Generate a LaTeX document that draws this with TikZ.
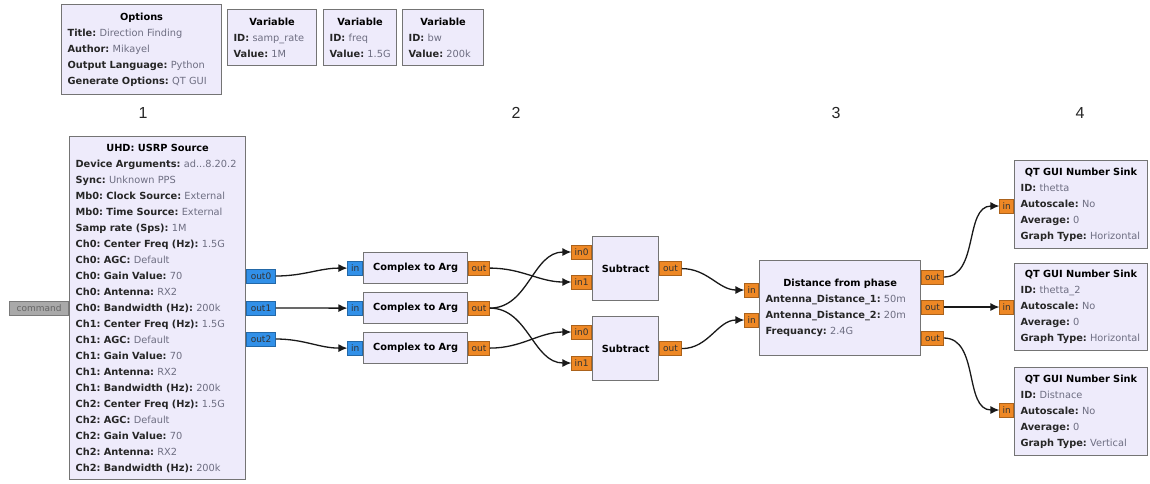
\documentclass[tikz,border=0pt]{standalone}
\usepackage{fontspec}
\setmainfont{DejaVu Sans}
\newfontfamily\numfont{Liberation Sans}
\usepackage{xcolor}
\usepackage{tikz}
\usetikzlibrary{arrows.meta}
\usetikzlibrary{positioning}
\frenchspacing

\definecolor{blkfill}{HTML}{EEEBFB}
\definecolor{blkdraw}{HTML}{747474}
\definecolor{valgray}{HTML}{6E6E82}
\definecolor{keyblack}{HTML}{262626}
\definecolor{cplx_port}{HTML}{3190E8}
\definecolor{flt_port}{HTML}{EE8825}
\definecolor{msg_port}{HTML}{A9A9A9}

\newcommand{\kv}[2]{\mbox{\textbf{\color{keyblack}#1:} \textcolor{valgray}{#2}}}
\newcommand{\ttl}[1]{\hspace*{\fill}\mbox{\textbf{#1}}\hspace*{\fill}\null}

\begin{document}
\begin{tikzpicture}[
      x=1pt, y=-1pt,
      blk/.style={draw=blkdraw, fill=blkfill, line width=1.2pt, anchor=north west,
        align=left, inner xsep=6pt, inner ysep=0pt,
        font=\fontsize{9.8}{16}\selectfont},
      port/.style={draw=#1!72!black, fill=#1, line width=0.6pt, inner sep=1pt,
        minimum height=14pt, text=black!80, font=\fontsize{9}{9}\selectfont},
      cport/.style={port=cplx_port},
      fport/.style={port=flt_port},
      mport/.style={port=msg_port},
      wire/.style={black!90, line width=1.3pt, -{Latex[length=9pt,width=8pt]}},
      num_lbl/.style={font=\numfont\fontsize{16}{16}\selectfont, text=black!85}
  ]

  % 1. Sfondo
  \fill[white] (0,0) rectangle (1150,483);

  % 2. Blocchi di impostazione
  \node[blk, text width=148pt, minimum height=90pt] (opts) at (61,4)
    {\ttl{Options}\\\kv{Title}{Direction Finding}\\\kv{Author}{Mikayel}\\
     \kv{Output Language}{Python}\\\kv{Generate Options}{QT GUI}};
  \node[blk, text width=77pt, minimum height=56pt] (var_sr) at (227,9)
    {\ttl{Variable}\\\kv{ID}{samp\_rate}\\\kv{Value}{1M}};
  \node[blk, text width=61pt, minimum height=56pt] (var_fq) at (323,9)
    {\ttl{Variable}\\\kv{ID}{freq}\\\kv{Value}{1.5G}};
  \node[blk, text width=69pt, minimum height=56pt] (var_bw) at (402,9)
    {\ttl{Variable}\\\kv{ID}{bw}\\\kv{Value}{200k}};

  % 3. Numeri delle colonne
  \foreach \n/\x in {1/143, 2/516, 3/836, 4/1080}
    \node[num_lbl] (col\n) at (\x,113) {\n};

  % 4. Sorgente USRP
  \node[blk, text width=164pt, minimum height=343pt] (usrp) at (69,136)
    {\ttl{UHD: USRP Source}\\
     \kv{Device Arguments}{ad...8.20.2}\\
     \kv{Sync}{Unknown PPS}\\
     \kv{Mb0: Clock Source}{External}\\
     \kv{Mb0: Time Source}{External}\\
     \kv{Samp rate (Sps)}{1M}\\
     \kv{Ch0: Center Freq (Hz)}{1.5G}\\
     \kv{Ch0: AGC}{Default}\\
     \kv{Ch0: Gain Value}{70}\\
     \kv{Ch0: Antenna}{RX2}\\
     \kv{Ch0: Bandwidth (Hz)}{200k}\\
     \kv{Ch1: Center Freq (Hz)}{1.5G}\\
     \kv{Ch1: AGC}{Default}\\
     \kv{Ch1: Gain Value}{70}\\
     \kv{Ch1: Antenna}{RX2}\\
     \kv{Ch1: Bandwidth (Hz)}{200k}\\
     \kv{Ch2: Center Freq (Hz)}{1.5G}\\
     \kv{Ch2: AGC}{Default}\\
     \kv{Ch2: Gain Value}{70}\\
     \kv{Ch2: Antenna}{RX2}\\
     \kv{Ch2: Bandwidth (Hz)}{200k}};
  \node[mport, anchor=east, minimum width=59pt, text=black!60] (cmd) at (usrp.west |- 0,308) {command};
  \foreach \i/\y in {0/276, 1/308, 2/339}
    \node[cport, anchor=west, minimum width=29pt] (u\i) at (usrp.east |- 0,\y) {out\i};

  % 5. Complex to Arg
  \foreach \i/\y in {1/252, 2/292, 3/332} {
    \node[blk, text width=92pt, minimum height=31pt] (c\i) at (363,\y) {\ttl{Complex to Arg}};
    \node[cport, left=0pt of c\i, minimum width=15pt] (c\i i) {in};
    \node[fport, right=0pt of c\i, minimum width=21pt] (c\i o) {out};
  }

  % 6. Subtract
  \foreach \i/\y/\ya/\yb in {1/236/252/282, 2/316/332/363} {
    \node[blk, text width=54pt, minimum height=64pt] (s\i) at (592,\y) {\ttl{Subtract}};
    \node[fport, anchor=east, minimum width=20pt] (s\i i0) at (s\i.west |- 0,\ya) {in0};
    \node[fport, anchor=east, minimum width=20pt] (s\i i1) at (s\i.west |- 0,\yb) {in1};
    \node[fport, right=0pt of s\i, minimum width=22pt] (s\i o) {out};
  }

  % 7. Distance from phase
  \node[blk, text width=149pt, minimum height=95pt] (dist) at (759,260)
    {\ttl{Distance from phase}\\
     \kv{Antenna\_Distance\_1}{50m}\\
     \kv{Antenna\_Distance\_2}{20m}\\
     \kv{Frequancy}{2.4G}};
  \foreach \i/\y in {0/290, 1/320}
    \node[fport, anchor=east, minimum width=14pt] (di\i) at (dist.west |- 0,\y) {in};
  \foreach \i/\y in {0/277, 1/307, 2/338}
    \node[fport, anchor=west, minimum width=22pt] (do\i) at (dist.east |- 0,\y) {out};

  % 8. QT GUI Number Sink
  \foreach \i/\y/\h/\id/\gt in {1/160/88/thetta/Horizontal,
                                2/263/87/thetta\_2/Horizontal,
                                3/367/88/Distnace/Vertical} {
    \node[blk, text width=121pt, minimum height=\h pt] (k\i) at (1014,\y)
      {\ttl{QT GUI Number Sink}\\\kv{ID}{\id}\\\kv{Autoscale}{No}\\
       \kv{Average}{0}\\\kv{Graph Type}{\gt}};
  }
  \foreach \i/\y in {1/206, 2/307, 3/410}
    \node[fport, anchor=east, minimum width=14pt] (k\i i) at (k\i.west |- 0,\y) {in};

  % 9. Collegamenti
  \foreach \a/\b in {u0/c1i, u1/c2i, u2/c3i,
                     c1o/s1i1, c2o/s1i0, c2o/s2i1, c3o/s2i0,
                     s1o/di0, s2o/di1,
                     do0/k1i, do1/k2i, do2/k3i}
    \draw[wire] (\a.east) to[out=0, in=180] (\b.west);

\end{tikzpicture}
\end{document}
